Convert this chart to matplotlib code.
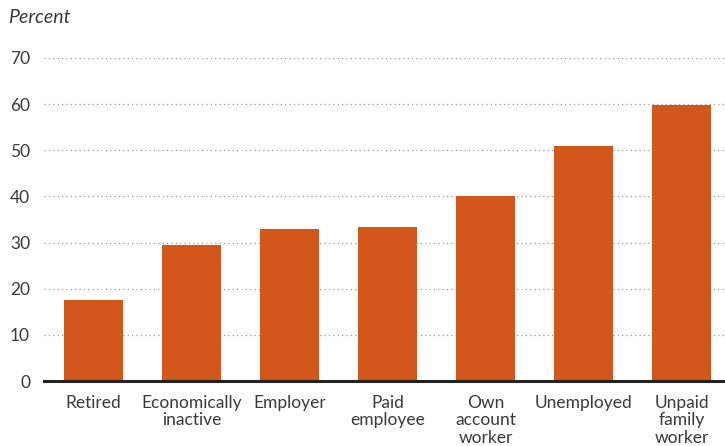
import numpy as np
import matplotlib.pyplot as plt

categories = ["Retired", "Economically\ninactive", "Employer", "Paid\nemployee",
              "Own\naccount\nworker", "Unemployed", "Unpaid\nfamily\nworker"]
values = [17.6, 29.5, 33.0, 33.4, 40.1, 51.0, 59.9]
yticks = [0, 10, 20, 30, 40, 50, 60, 70]

plt.rcParams['font.family'] = ['Lato', 'DejaVu Sans']
text_color = '#3a3a3a'

fig = plt.figure(figsize=(7.25, 4.46), dpi=100)
ax = fig.add_axes([0.0607, 0.1457, 0.9393, 0.7243])

x = np.arange(len(categories))
ax.bar(x, values, width=0.6, color='#D1571B', zorder=3)

ax.set_xlim(-0.505, 6.44)
ax.set_ylim(0, 70)
ax.set_yticks(yticks)
ax.set_xticks(x)
ax.set_xticklabels(categories, fontsize=12.5, color=text_color, linespacing=1.1)
ax.tick_params(axis='y', labelsize=12.5, colors=text_color, length=0, pad=10)
ax.tick_params(axis='x', length=0, pad=10)

ax.grid(axis='y', linestyle=(0, (1, 2.5)), color='#999999', linewidth=0.9, zorder=0)
for s in ['top', 'right', 'left']:
    ax.spines[s].set_visible(False)
ax.spines['bottom'].set_linewidth(2.2)
ax.spines['bottom'].set_color('#222222')
ax.spines['bottom'].set_zorder(4)

fig.text(0.011, 0.96, "Percent", fontsize=14, style='italic', color=text_color,
         va='center', ha='left')

fig.savefig("out.png", dpi=100)
